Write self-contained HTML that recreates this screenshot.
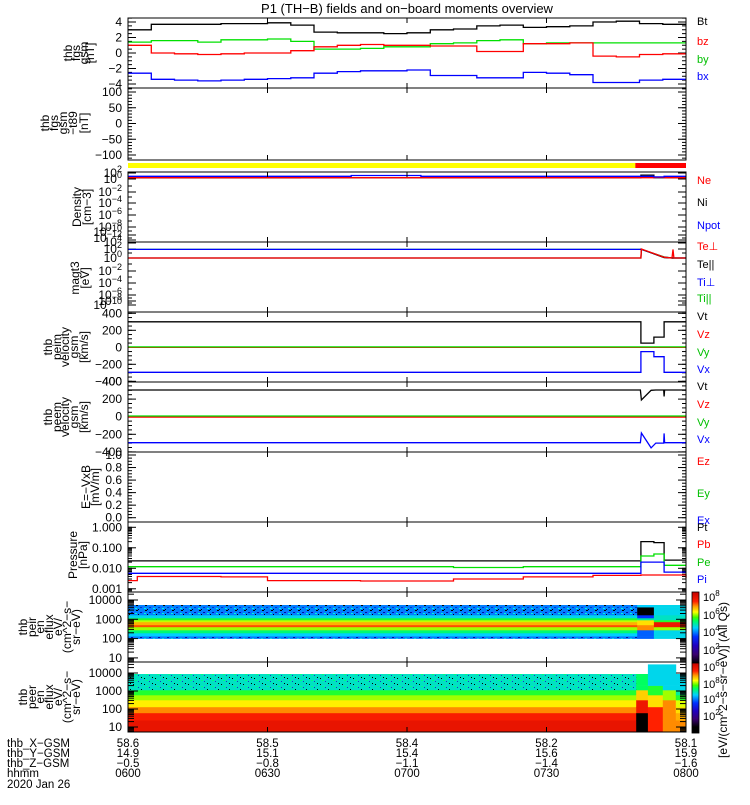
<!DOCTYPE html>
<html><head><meta charset="utf-8">
<style>
body{margin:0;background:#fff}
svg text{font-family:"Liberation Sans",sans-serif}
</style></head>
<body>
<svg id="chart" width="750" height="800" viewBox="0 0 750 800" xmlns="http://www.w3.org/2000/svg">
<defs>
<pattern id="speck" width="9" height="5" patternUnits="userSpaceOnUse">
<rect x="1" y="0" width="2" height="1" fill="#000"/><rect x="5" y="2" width="2" height="1" fill="#0010a0"/><rect x="3" y="4" width="1" height="1" fill="#000"/><rect x="7" y="1" width="1" height="2" fill="#2060ff"/><rect x="0" y="3" width="2" height="1" fill="#00ffd0"/>
</pattern>
<pattern id="speck2" width="11" height="6" patternUnits="userSpaceOnUse">
<rect x="1" y="0" width="1" height="1" fill="#000"/><rect x="6" y="3" width="1" height="1" fill="#2030c0"/><rect x="9" y="5" width="1" height="1" fill="#000"/><rect x="3" y="2" width="2" height="1" fill="#00ff80"/><rect x="8" y="1" width="2" height="1" fill="#20a0ff"/>
</pattern>
</defs>
</svg>
<script>
// ---------- data ----------
const bTimes=[0,5,10,15,20,25,30,35,40,45,50,55,60,65,70,75,80,85,90,95,100,105,110,115,120];
const bt=[3.0,3.7,3.7,3.7,3.8,3.8,3.9,3.6,2.7,2.6,2.6,2.5,2.6,3.0,3.1,3.5,3.6,3.3,3.4,3.5,4.0,4.1,3.8,3.7,3.7];
const bz=[1.0,0.0,-0.1,-0.2,-0.1,0.0,0.0,0.3,0.8,1.0,1.1,1.0,1.0,0.9,0.9,0.2,0.2,1.2,1.2,1.3,-0.4,-0.5,-0.2,-0.1,-0.1];
const by=[1.4,1.6,1.6,1.4,1.7,1.7,1.8,1.5,0.5,0.5,0.6,0.8,0.8,1.2,1.3,1.6,1.7,1.2,1.3,1.3,1.3,1.3,1.3,1.3,1.3];
const bx=[-2.6,-3.4,-3.5,-3.6,-3.5,-3.4,-3.3,-3.2,-2.6,-2.4,-2.3,-2.3,-2.2,-2.9,-2.9,-3.2,-3.2,-2.5,-2.6,-2.8,-3.8,-3.8,-3.5,-3.4,-3.4];

const nTimes=[0,37,48,63,110.3,113.1,115.3,120];
const ne=[2.3,2.3,2.3,2.3,2.3,3,2.3,2.3];
const ni=[2,2.3,2.3,2.3,13,2.3,2.3,2.3];
const npot=[5.9,5.9,10,5.9,5.9,4,5.9,5.9];

const tTimes=[0,110.3,110.4,115.3,117,117.2,117.4,120];
const tePerp=[1,1,100,1.5,1,80,1,1];
const tePar=[1,1,90,1.2,1,1,1,1];
const tiPerp=[80,80,80,1.5,1,1,1,1];
const tiPar=[80,80,80,1.8,1,1,1,1];

const vTimes=[0,110.3,113.1,115.3,120];
const imVt=[300,50,120,300,300];
const imVz=[0,0,0,0,0];
const imVy=[5,5,5,5,5];
const imVx=[-294,-50,-110,-294,-294];

const eTimes=[0,110.2,110.4,112.5,113.5,115.2,115.3,115.4,120];
const emVt=[303,303,190,300,303,303,230,303,303];
const emVz=[-5,-5,-5,-5,-5,-5,-5,-5,-5];
const emVy=[8,8,8,8,8,8,8,8,8];
const emVx=[-295,-295,-185,-355,-300,-300,-190,-295,-295];

const pTimes=[0,2,20,30,50,70,85,100,110.3,113.1,115.3,118,120];
const pPt=[0.023,0.023,0.023,0.023,0.023,0.023,0.023,0.023,0.2,0.18,0.025,0.025,0.025];
const pPb=[0.0025,0.004,0.0038,0.0025,0.0024,0.003,0.0038,0.0045,0.0047,0.0047,0.0047,0.0047,0.0034];
const pPe=[0.012,0.012,0.012,0.012,0.012,0.011,0.012,0.012,0.04,0.05,0.014,0.014,0.014];
const pPi=[0.0057,0.0057,0.0057,0.0057,0.0057,0.0057,0.0057,0.0057,0.02,0.02,0.0065,0.0065,0.0065];

const ionSegTimes=[0,109.5,113.1,120];
const ionEdges=[100,135,195,280,400,510,730,920,1170,1670,4300,5500];
const ionNormal=[4.0,4.5,5.2,6.0,7.3,6.8,6.1,5.5,4.6,4.0,4.0];
const ionEventA=[3.8,3.8,3.8,7.0,7.0,6.5,6.5,5.0,3.5,0.5,4.5];
const ionEventB=[4.6,4.6,4.6,6.0,7.8,7.8,5.5,4.8,4.8,4.6,4.6];

const eleSegTimes=[0,109.3,111.8,115.0,117.8,120];
const eleEdges=[5.3,24,60,130,316,600,1140,2000,8800,30000];
const eleNormal=[7.9,7.6,7.0,6.4,6.0,5.5,4.8,4.8,null];
const eleEventA=[0.5,0.5,7.8,7.8,6.6,6.6,5.3,5.3,null];
const eleEventB=[7.5,7.5,7.5,6.5,6.5,5.5,5.5,4.6,4.6];
const eleEventC=[7.0,7.0,7.0,7.0,6.0,6.0,4.6,4.6,4.6];
const eleEventD=[7.0,6.8,6.5,6.2,5.5,5.0,4.6,4.6,null];

const timeTicks=[0,30,60,90,120];
const hhmmLabels=['0600','0630','0700','0730','0800'];
const xgsmLabels=['58.6','58.5','58.4','58.2','58.1'];
const ygsmLabels=['14.9','15.1','15.4','15.6','15.9'];
const zgsmLabels=['\u22120.5','\u22120.8','\u22121.1','\u22121.4','\u22121.6'];

// ---------- helpers ----------
const NS='http://www.w3.org/2000/svg';
const svg=document.getElementById('chart');
function el(tag,attrs,parent){const e=document.createElementNS(NS,tag);for(const k in attrs)e.setAttribute(k,attrs[k]);(parent||svg).appendChild(e);return e;}
const X0=128,X1=686;
function X(t){return X0+t*(X1-X0)/120;}
function txt(x,y,s,opts,parent){const e=el('text',Object.assign({x:x,y:y,'font-size':12,fill:'#000'},opts||{}),parent);e.textContent=s;return e;}
function logLabel(x,y,exp,parent){const e=el('text',{x:x,y:y,'font-size':12,'text-anchor':'end'},parent);e.textContent='10';const s=el('tspan',{dy:-5,'font-size':9},e);s.textContent=exp;return e;}

function series(times,vals,yf,color,step,name){
  let d='';
  for(let i=0;i<times.length;i++){
    const x=X(times[i]).toFixed(1),y=yf(vals[i]).toFixed(1);
    if(i===0)d+='M'+x+' '+y;
    else if(step){d+=' H'+x+' V'+y;}
    else d+=' L'+x+' '+y;
  }
  if(step)d+=' H'+X(120).toFixed(1);
  const p=el('path',{d:d,fill:'none',stroke:color,'stroke-width':1.3});
  
  
  return p;
}
function frame(y0,y1,name){
  const r=el('rect',{x:X0,y:y0,width:X1-X0,height:y1-y0,fill:'none',stroke:'#000','stroke-width':1});
  
  
  for(const t of [30,60,90]){
    el('line',{x1:X(t),x2:X(t),y1:y0,y2:y0+5,stroke:'#000'});
    el('line',{x1:X(t),x2:X(t),y1:y1,y2:y1-5,stroke:'#000'});
  }
}
function yticks(ys,len){
  for(const y of ys){
    if(y<0)continue;
    el('line',{x1:X0,x2:X0+len,y1:y,y2:y,stroke:'#000'});
    el('line',{x1:X1,x2:X1-len,y1:y,y2:y,stroke:'#000'});
  }
}
function vlabel(lines,cy,xs,name){
  const g=el('g',{});
  
  
  lines.forEach((s,i)=>{txt(0,0,s,{transform:'translate('+xs[i]+','+cy+') rotate(-90)','text-anchor':'middle','font-size':12},g);});
}
function rlabel(s,y,color,name){
  const t=txt(697,y,s,{fill:color,'font-size':11});
  
  
}
// colormap
const cmStops=[[0.5,[0,0,0]],[1.5,[58,0,112]],[2.5,[32,0,192]],[3.5,[0,48,255]],[4.5,[0,208,255]],[5.3,[0,255,96]],[5.7,[64,255,0]],[6.3,[255,255,0]],[6.9,[255,160,0]],[7.5,[255,32,0]],[8.6,[192,0,0]]];
function cmap(v){
  if(v<=cmStops[0][0])return 'rgb(0,0,0)';
  for(let i=1;i<cmStops.length;i++){
    if(v<=cmStops[i][0]){const a=cmStops[i-1],b=cmStops[i],f=(v-a[0])/(b[0]-a[0]);
      const c=a[1].map((q,k)=>Math.round(q+(b[1][k]-q)*f));return 'rgb('+c.join(',')+')';}
  }
  return 'rgb(192,0,0)';
}

// ---------- title ----------
const title=txt(407,13,'P1 (TH\u2212B) fields and on\u2212board moments overview',{'text-anchor':'middle','font-size':13});



// ---------- panel 1: B field ----------
(function(){
  const y0=18,y1=88;const yf=v=>53-v*7.75;
  const minor=[];for(let v=-4.5;v<=4.5;v+=0.5)minor.push(yf(v));yticks(minor,4);
  yticks([-4,-2,0,2,4].map(yf),8);
  series(bTimes,bt,yf,'#000',true,'bt-line');
  series(bTimes,by,yf,'#00e000',true,'by-line');
  series(bTimes,bz,yf,'#ff0000',true,'bz-line');
  series(bTimes,bx,yf,'#0000ff',true,'bx-line');
  frame(y0,y1,'fgs-panel');
  [4,2,0,-2,-4].forEach(v=>txt(122,yf(v)+4,v<0?'\u2212'+(-v):String(v),{'text-anchor':'end'}));
  vlabel(['thb','fgs','gsm','[nT]'],53,[72,80,88,94],'fgs-y-axis-title');
  rlabel('Bt',25,'#000','legend-bt');rlabel('bz',45,'#ff0000','legend-bz');rlabel('by',63,'#00c000','legend-by');rlabel('bx',80,'#0000ff','legend-bx');
})();

// ---------- panel 2: fgs-t89 ----------
(function(){
  const y0=88,y1=160;const yf=v=>123.5-v*0.315;
  const minor=[];for(let v=-110;v<=110;v+=10)minor.push(yf(v));yticks(minor,4);
  yticks([-100,-50,0,50,100].map(yf),8);
  frame(y0,y1,'fgs-t89-panel');
  [100,50,0,-50,-100].forEach(v=>txt(122,yf(v)+4,v<0?'\u2212'+(-v):String(v),{'text-anchor':'end'}));
  vlabel(['thb','fgs','gsm','\u2212t89','[nT]'],123,[49,58,67,77,88],'fgs-t89-y-axis-title');
})();

// ---------- mode bar ----------
(function(){
  const a=el('rect',{x:X0,y:163,width:X(109.1)-X0,height:5,fill:'#ffff00'});
  
  const b=el('rect',{x:X(109.1),y:163,width:X1-X(109.1),height:5,fill:'#ff0000'});
  
})();

// ---------- panel 3: density ----------
(function(){
  const y0=172,y1=242;const yf=v=>179-3.5*Math.log10(v);
  yticks([173,179,192,203,215,227,235,240],8);
  yticks([186,197,209,221,231,238],4);
  series(nTimes,ni,yf,'#000',true,'ni-line');
  series(nTimes,ne,yf,'#ff0000',true,'ne-line');
  series(nTimes,npot,yf,'#0000ff',true,'npot-line');
  frame(y0,y1,'density-panel');
  [['2',177],['0',183],['\u22122',196],['\u22124',207],['\u22126',219],['\u22128',231],['\u221210',236],['\u221212',242]].forEach(a=>logLabel(122,a[1],a[0]));
  vlabel(['Density','[cm\u22123]'],207,[81,91],'density-y-axis-title');
  rlabel('Ne',184,'#ff0000','legend-ne');rlabel('Ni',206,'#000','legend-ni');rlabel('Npot',229,'#0000ff','legend-npot');
})();

// ---------- panel 4: temperature ----------
(function(){
  const y0=242,y1=312;const yf=v=>258-4.5*Math.log10(v);
  yticks([243,249,258,271,283,295,301,305],8);
  yticks([253,264,277,289,298,303],4);
  series(tTimes,tiPar,yf,'#00e000',false,'ti-par-line');
  series(tTimes,tiPerp,yf,'#0000ff',false,'ti-perp-line');
  series(tTimes,tePar,yf,'#000',false,'te-par-line');
  series(tTimes,tePerp,yf,'#ff0000',false,'te-perp-line');
  frame(y0,y1,'temperature-panel');
  [['4',246],['2',253],['0',262],['\u22122',275],['\u22124',287],['\u22126',299],['\u22128',305],['\u221210',309]].forEach(a=>logLabel(122,a[1],a[0]));
  vlabel(['magt3','[eV]'],278,[79,89],'temperature-y-axis-title');
  rlabel('Te\u22a5',250,'#ff0000','legend-te-perp');rlabel('Te||',268,'#000','legend-te-par');rlabel('Ti\u22a5',286,'#0000ff','legend-ti-perp');rlabel('Ti||',302,'#00c000','legend-ti-par');
})();

// ---------- velocity panels ----------
function velPanel(y0,y1,zeroY,k,times,vt,vz,vy,vx,nameP,labelLines){
  const yf=v=>zeroY-v*k;
  const minor=[];for(let v=-400;v<=400;v+=50)minor.push(yf(v));yticks(minor.filter(y=>y>=y0&&y<=y1),4);
  yticks([-400,-200,0,200,400].map(yf).filter(y=>y>=y0-1&&y<=y1+1),8);
  series(times,vt,yf,'#000',nameP==='peim',nameP+'-vt-line');
  series(times,vz,yf,'#ff0000',nameP==='peim',nameP+'-vz-line');
  series(times,vy,yf,'#00e000',nameP==='peim',nameP+'-vy-line');
  series(times,vx,yf,'#0000ff',nameP==='peim',nameP+'-vx-line');
  frame(y0,y1,nameP+'-velocity-panel');
  [400,200,0,-200,-400].forEach(v=>txt(122,yf(v)+4,v<0?'\u2212'+(-v):String(v),{'text-anchor':'end'}));
  vlabel(labelLines,(y0+y1)/2,[52,61,69,78,88],nameP+'-velocity-y-axis-title');
  const b=y0+8;
  rlabel('Vt',b,'#000','legend-'+nameP+'-vt');rlabel('Vz',b+18,'#ff0000','legend-'+nameP+'-vz');rlabel('Vy',b+36,'#00c000','legend-'+nameP+'-vy');rlabel('Vx',b+53,'#0000ff','legend-'+nameP+'-vx');
}
velPanel(312,382,347.3,0.085,vTimes,imVt,imVz,imVy,imVx,'peim',['thb','peim','velocity','gsm','[km/s]']);
velPanel(382,452,416.7,0.088,eTimes,emVt,emVz,emVy,emVx,'peem',['thb','peem','velocity','gsm','[km/s]']);

// ---------- panel 7: E field ----------
(function(){
  const y0=452,y1=522;const yf=v=>517.7-v*62.7;
  const minor=[];for(let v=0;v<=1.001;v+=0.05)minor.push(yf(v));yticks(minor,4);
  yticks([0,0.2,0.4,0.6,0.8,1.0].map(yf),8);
  frame(y0,y1,'efield-panel');
  [1.0,0.8,0.6,0.4,0.2,0.0].forEach(v=>txt(122,yf(v)+4,v.toFixed(1),{'text-anchor':'end'}));
  vlabel(['E=\u2212VxB','[mV/m]'],487,[90,99],'efield-y-axis-title');
  rlabel('Ez',465,'#ff0000','legend-ez');rlabel('Ey',497,'#00c000','legend-ey');rlabel('Ex',524,'#0000ff','legend-ex');
})();

// ---------- panel 8: pressure ----------
(function(){
  const y0=522,y1=592;const yf=v=>568.3-(Math.log10(v)+2)*20.5;
  const minor=[];for(let e=-4;e<=0;e++)for(let m=1;m<10;m++){const y=yf(m*Math.pow(10,e));if(y>=y0&&y<=y1)minor.push(y);}
  yticks(minor,4);yticks([1,0.1,0.01,0.001].map(yf),8);
  series(pTimes,pPt,yf,'#000',true,'pt-line');
  series(pTimes,pPe,yf,'#00e000',true,'pe-line');
  series(pTimes,pPi,yf,'#0000ff',true,'pi-line');
  series(pTimes,pPb,yf,'#ff0000',true,'pb-line');
  frame(y0,y1,'pressure-panel');
  [[1,'1.000'],[0.1,'0.100'],[0.01,'0.010'],[0.001,'0.001']].forEach(a=>txt(122,yf(a[0])+4,a[1],{'text-anchor':'end'}));
  vlabel(['Pressure','[nPa]'],555,[77,87],'pressure-y-axis-title');
  rlabel('Pt',531,'#000','legend-pt');rlabel('Pb',548,'#ff0000','legend-pb');rlabel('Pe',566,'#00c000','legend-pe');rlabel('Pi',583,'#0000ff','legend-pi');
})();

// ---------- spectrograms ----------
function spectro(y0,y1,yE,segTimes,edges,segFlux,speckBands,pat,name){
  const g=el('g',{});
  
  
  const clip=v=>Math.max(y0,Math.min(y1,v));
  for(let s=0;s<segFlux.length;s++){
    const xa=X(segTimes[s]),xb=X(segTimes[s+1]);
    for(let b=0;b<edges.length-1;b++){
      const v=segFlux[s][b];if(v===null||v===undefined)continue;
      const ya=clip(yE(edges[b+1])),yb=clip(yE(edges[b]));if(yb-ya<=0)continue;
      const r=el('rect',{x:xa.toFixed(1),y:ya.toFixed(1),width:(xb-xa+0.4).toFixed(1),height:(yb-ya+0.3).toFixed(1),fill:cmap(v)},g);
      
      
      if(s===0&&speckBands.indexOf(b)>=0)el('rect',{x:xa,y:ya,width:xb-xa,height:yb-ya,fill:'url(#'+pat+')'},g);
    }
  }
  const minor=[];for(let e=0;e<=5;e++)for(let m=2;m<10;m++){const y=yE(m*Math.pow(10,e));if(y>=y0&&y<=y1)minor.push(y);}
  yticks(minor,6);yticks([10,100,1000,10000].map(yE),10);
  frame(y0,y1,name+'-panel');
  [10000,1000,100,10].forEach(v=>txt(122,yE(v)+4,String(v),{'text-anchor':'end'}));
}
spectro(592,662,E=>600+(4-Math.log10(E))*19.3,ionSegTimes,ionEdges,[ionNormal,ionEventA,ionEventB],[0,9,10],'speck','ion-spectrogram');
spectro(662,732,E=>673+(4-Math.log10(E))*18,eleSegTimes,eleEdges,[eleNormal,eleEventA,eleEventB,eleEventC,eleEventD],[6,7],'speck2','electron-spectrogram');
vlabel(['thb','peir','en','eflux','eV/','(cm^2\u2212s\u2212','sr\u2212eV)'],627,[27,36,44,53,62,71,80],'ion-spectrogram-y-axis-title');
vlabel(['thb','peer','en','eflux','eV/','(cm^2\u2212s\u2212','sr\u2212eV)'],697,[27,36,44,53,62,71,80],'electron-spectrogram-y-axis-title');

// colorbars
function colorbar(y0,y1,yv,labels,name){
  const g=el('g',{});
  
  
  for(let y=y0;y<y1;y++){el('rect',{x:692,y:y,width:7,height:1.2,fill:cmap(yv(y+0.5))},g);}
  el('rect',{x:692,y:y0,width:7,height:y1-y0,fill:'none',stroke:'#000','stroke-width':0.8},g);
  labels.forEach(a=>{const t=el('text',{x:703,y:a[1]+4,'font-size':11},g);t.textContent='10';const s=el('tspan',{dy:-5,'font-size':8},t);s.textContent=a[0];});
}
colorbar(592,663,y=>8-(y-597)/8.83,[['8',597],['6',615],['4',632],['2',650]],'ion-colorbar');
colorbar(663,733,y=>8-(y-667)/8,[['6',667],['8',684],['4',699],['2',716]],'electron-colorbar');
(function(){
  const t=txt(0,0,'[eV/(cm^2\u2212s\u2212sr\u2212eV)] (All Qs)',{transform:'translate(727,680) rotate(-90)','text-anchor':'middle','font-size':12});
  
  
})();

// ---------- bottom axis labels ----------
(function(){
  const rows=[['thb_X\u2212GSM',xgsmLabels,747],['thb_Y\u2212GSM',ygsmLabels,757],['thb_Z\u2212GSM',zgsmLabels,767],['hhmm',hhmmLabels,777]];
  rows.forEach(r=>{
    const l=txt(7,r[2],r[0],{'font-size':11.5});
    
    
    timeTicks.forEach((t,i)=>{const v=txt(X(t),r[2],r[1][i],{'text-anchor':'middle','font-size':11.5});
      
      });
  });
  const d=txt(7,788,'2020 Jan 26',{'font-size':11.5});
  
  
})();
</script>
</body></html>
